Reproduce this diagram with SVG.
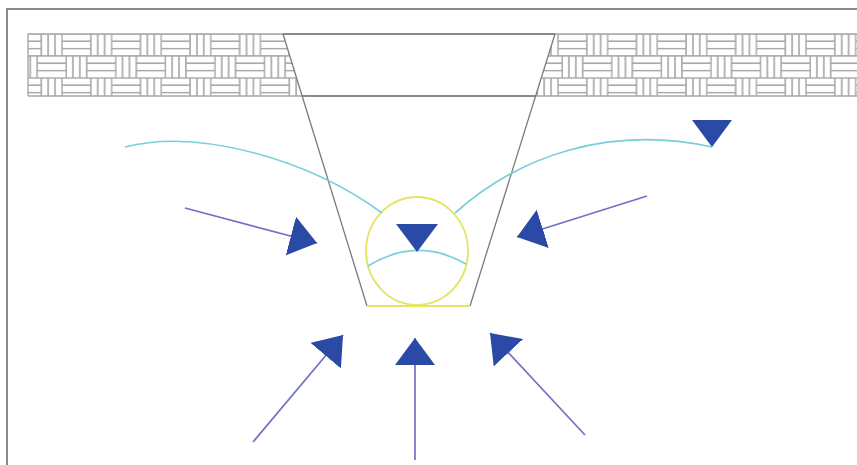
<svg xmlns="http://www.w3.org/2000/svg" width="857" height="465" viewBox="0 0 857 465">
  <style>
    .frame { fill: none; stroke: #8a8a8a; stroke-width: 2; }
    .bar { fill: #ffffff; stroke: #a9a9a9; stroke-width: 1.4; }
    .band-edge { fill: none; stroke: #a8a8a8; stroke-width: 1.4; }
    .wall { fill: none; stroke: #7a7a7a; stroke-width: 1.3; }
    .pipe { fill: none; stroke: #e4e466; stroke-width: 1.8; }
    .water { fill: none; stroke: #78cfdc; stroke-width: 1.7; }
    .level { fill: #2b4aa6; }
    .flow { fill: none; stroke: #7070c8; stroke-width: 1.7; marker-end: url(#head); }
  </style>
  <defs>
    <!-- basket-weave paving: each course is the one above shifted by half a period -->
    <pattern id="weave" patternUnits="userSpaceOnUse" x="12.4" y="34" width="49.6" height="44">
      <rect width="49.6" height="44" fill="#ffffff"/>
      <!-- course 1 -->
      <rect class="bar" x="0" y="0" width="29" height="7.33"/>
      <rect class="bar" x="0" y="7.33" width="29" height="7.33"/>
      <rect class="bar" x="0" y="14.67" width="29" height="7.33"/>
      <rect class="bar" x="29" y="0" width="6.87" height="22"/>
      <rect class="bar" x="35.87" y="0" width="6.87" height="22"/>
      <rect class="bar" x="42.73" y="0" width="6.87" height="22"/>
      <!-- course 2 -->
      <rect class="bar" x="4.2" y="22" width="6.87" height="22"/>
      <rect class="bar" x="11.07" y="22" width="6.87" height="22"/>
      <rect class="bar" x="17.93" y="22" width="6.87" height="22"/>
      <rect class="bar" x="24.8" y="22" width="29" height="7.33"/>
      <rect class="bar" x="24.8" y="29.33" width="29" height="7.33"/>
      <rect class="bar" x="24.8" y="36.67" width="29" height="7.33"/>
      <rect class="bar" x="-24.8" y="22" width="29" height="7.33"/>
      <rect class="bar" x="-24.8" y="29.33" width="29" height="7.33"/>
      <rect class="bar" x="-24.8" y="36.67" width="29" height="7.33"/>
    </pattern>
    <marker id="head" viewBox="0 0 27 40" refX="27" refY="20" markerWidth="27" markerHeight="40" markerUnits="userSpaceOnUse" orient="auto">
      <path d="M0,0 L27,20 L0,40 Z" fill="#2b4aa6"/>
    </marker>
  </defs>

  <rect width="857" height="465" fill="#ffffff"/>

  <!-- outer frame (top and left edges) -->
  <path class="frame" d="M7,465 V9 H857"/>

  <!-- paved surface with the trench cut through it -->
  <g id="pavement">
    <rect x="28" y="34" width="840" height="62" fill="url(#weave)"/>
    <polygon points="283,34 555,34 536,96 302,96" fill="#ffffff"/>
    <path class="band-edge" d="M28,96 V34 H857 M28,96 H857"/>
  </g>

  <g id="trench">
    <path class="wall" d="M283,34 L367,306 M555,34 L470,306 M283,34 H555 M302,96 H536"/>
  </g>

  <g id="pipe">
    <ellipse class="pipe" cx="417" cy="251" rx="51" ry="54"/>
    <line class="pipe" x1="367" y1="306" x2="470" y2="306"/>
  </g>

  <g id="water-table">
    <path class="water" d="M125,147 C200,128 310,160 382,213"/>
    <path class="water" d="M455,213 C520,155 610,125 712,147"/>
    <path class="water" d="M368,266 Q417,236 466,264"/>
    <polygon class="level" points="692,120 732,120 712,147"/>
    <polygon class="level" points="396,224 438,224 417,252"/>
  </g>

  <g id="connectors">
    <line class="flow" x1="185" y1="208" x2="317" y2="243"/>
    <line class="flow" x1="647" y1="196" x2="517" y2="237"/>
    <line class="flow" x1="253" y1="442" x2="343" y2="335"/>
    <line class="flow" x1="415" y1="460" x2="415" y2="338"/>
    <line class="flow" x1="585" y1="435" x2="490" y2="333"/>
  </g>
</svg>
